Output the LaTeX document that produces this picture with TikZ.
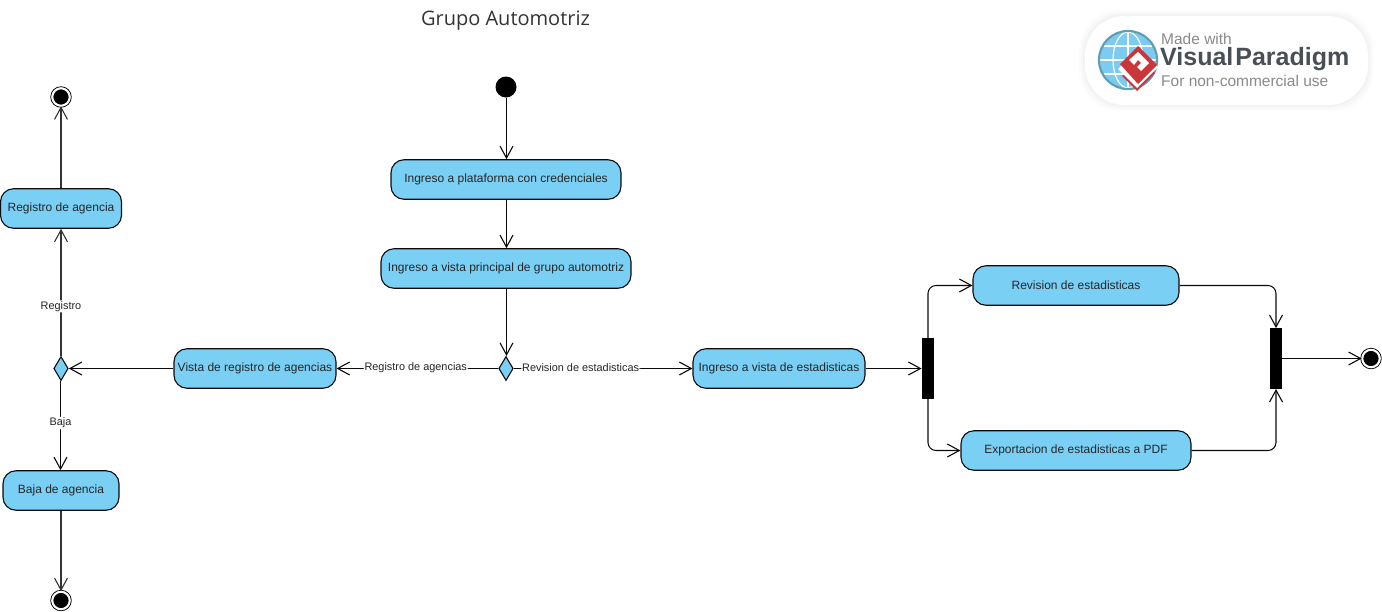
\documentclass[tikz,border=0pt]{standalone}
\usepackage{fontspec}
\setmainfont{Liberation Sans}
\newfontfamily\titlefont{Open Sans}
\usetikzlibrary{arrows.meta,shapes.geometric}
\definecolor{actblue}{HTML}{7ACFF5}
\definecolor{inkline}{HTML}{0A0A0A}
\definecolor{logogray}{HTML}{8A8A8A}
\definecolor{logodark}{HTML}{4A4F55}
\definecolor{logored}{HTML}{C9373A}
\definecolor{globeblue}{HTML}{7CCBF0}
\definecolor{globeedge}{HTML}{5F9DB5}
\tikzset{
  x=1pt,y=-1pt,
  activity/.style={draw=inkline,fill=actblue,line width=1.1pt,rounded corners=13pt,inner sep=0pt,font=\fontsize{12}{13}\selectfont,text=black!85},
  decision/.style={draw=inkline,fill=actblue,line width=1.1pt,diamond,aspect=0.58,inner sep=0pt,minimum width=14.5pt,minimum height=24pt},
  forkbar/.style={draw=none,fill=black,inner sep=0pt,minimum width=12.5pt},
  startdot/.style={circle,fill=black,inner sep=0pt,minimum size=21pt},
  enddot/.style={circle,fill=black,draw=white,line width=1.6pt,inner sep=0pt,minimum size=17pt,
    append after command={\pgfextra{\draw[inkline,line width=.8pt] (\tikzlastnode) circle (10.3pt);}}},
  flow/.style={draw=inkline,line width=1.05pt,rounded corners=8pt,-{Straight Barb[length=12pt,width=13pt,line width=1.1pt]}},
  flowthick/.style={flow,line width=1.6pt,draw=black!80},
  guard/.style={fill=white,inner sep=1pt,font=\fontsize{10.9}{12}\selectfont,text=black!85},
  logotext/.style={anchor=west,inner sep=0pt}
}
\begin{document}
\begin{tikzpicture}
\useasboundingbox (0,0) rectangle (1382,611);
\node[font=\titlefont\fontsize{20}{22}\selectfont,text=black!80] (title) at (505.5,21) {Grupo Automotriz};

% watermark
\foreach \g/\o in {6/0.012,4/0.015,2/0.02}{
  \fill[black,opacity=\o,rounded corners=40pt] (1085-\g,16-\g) rectangle (1368+\g,105+\g);
}
\fill[white,rounded corners=40pt] (1085,16) rectangle (1368,105);
\fill[globeblue] (1128,60) circle (28pt);
\begin{scope}
  \clip (1128,60) circle (28pt);
  \draw[white,line width=1.2pt] (1128,32)--(1128,88) (1100,60)--(1156,60) (1100,46)--(1156,46) (1100,74)--(1156,74);
  \draw[white,line width=1.2pt] (1128,60) ellipse (15pt and 28pt);
\end{scope}
\draw[globeedge,line width=2.2pt] (1128,60) circle (29pt);
\fill[logored] (1122,76)--(1137,91)--(1155,73)--(1142,60)--cycle;
\fill[white] (1118,69)--(1137,88)--(1158,67)--(1140,49)--cycle;
\fill[logored] (1120,64)--(1138,46)--(1157,65)--(1138,84)--cycle;
\fill[white] (1129,60)--(1138,52)--(1149,63)--(1141,71)--(1137,67)--(1141,63)--(1138,60)--(1134,65)--cycle;
\node[logotext,text=logogray,font=\fontsize{15.5}{17}\selectfont] (lg1) at (1161,38.5) {Made with};
\node[logotext,text=logodark,font=\bfseries\fontsize{25}{28}\selectfont] (lg2) at (1160,59) {Visual\kern2pt Paradigm};
\node[logotext,text=logogray,font=\fontsize{15.5}{17}\selectfont] (lg3) at (1161,81) {For non-commercial use};

% nodes
\node[startdot] (start) at (506,87) {};
\node[activity,minimum width=230pt,minimum height=39.5pt] (a1) at (506,179.5) {Ingreso a plataforma con credenciales};
\node[activity,minimum width=250pt,minimum height=39.5pt] (a2) at (506,268.5) {Ingreso a vista principal de grupo automotriz};
\node[decision] (d1) at (506,368.5) {};
\node[activity,minimum width=162pt,minimum height=39.5pt] (vista) at (255,368.5) {Vista de registro de agencias};
\node[activity,minimum width=172pt,minimum height=39.5pt] (stats) at (779,368.5) {Ingreso a vista de estadisticas};
\node[decision] (d2) at (61,368.5) {};
\node[activity,minimum width=121pt,minimum height=39.5pt] (reg) at (61,208.5) {Registro de agencia};
\node[activity,minimum width=116pt,minimum height=39.5pt] (baja) at (61,490.5) {Baja de agencia};
\node[enddot] (e1) at (61,97) {};
\node[enddot] (e2) at (61,600.5) {};
\node[enddot] (e3) at (1371,358.5) {};
\node[forkbar,minimum height=60.5pt] (f1) at (928,368.5) {};
\node[forkbar,minimum height=60.5pt] (f2) at (1276,358.5) {};
\node[activity,minimum width=206pt,minimum height=39.5pt] (rev) at (1076,285.5) {Revision de estadisticas};
\node[activity,minimum width=230pt,minimum height=39.5pt] (exp) at (1076,450.5) {Exportacion de estadisticas a PDF};

% connectors
\draw[flow] ([xshift=.5pt]start.south) -- ([xshift=.5pt]a1.north);
\draw[flow] ([xshift=.5pt]a1.south) -- ([xshift=.5pt]a2.north);
\draw[flow] ([xshift=.5pt]a2.south) -- ([xshift=.5pt]d1.north);
\draw[flow] (d1) -- node[guard,pos=0.51,yshift=1pt] {Registro de agencias} (vista);
\draw[flow] (d1) -- node[guard,pos=0.374,yshift=1pt] {Revision de estadisticas} (stats);
\draw[flow] (vista) -- (d2);
\draw[flowthick] (d2) -- node[guard,pos=0.39] {Registro} (reg);
\draw[flowthick] (reg) -- (e1);
\draw[flow] ([xshift=-.5pt]d2.south) -- node[guard,pos=0.47] {Baja} ([xshift=-.5pt]baja.north);
\draw[flowthick] (baja) -- (e2);
\draw[flow] (stats) -- (f1);
\draw[flow] (f1.north) |- (rev);
\draw[flow] (f1.south) |- (exp);
\draw[flow] (rev) -| (f2.north);
\draw[flow] (exp) -| (f2.south);
\draw[flow] (f2) -- (e3);
\end{tikzpicture}
\end{document}
